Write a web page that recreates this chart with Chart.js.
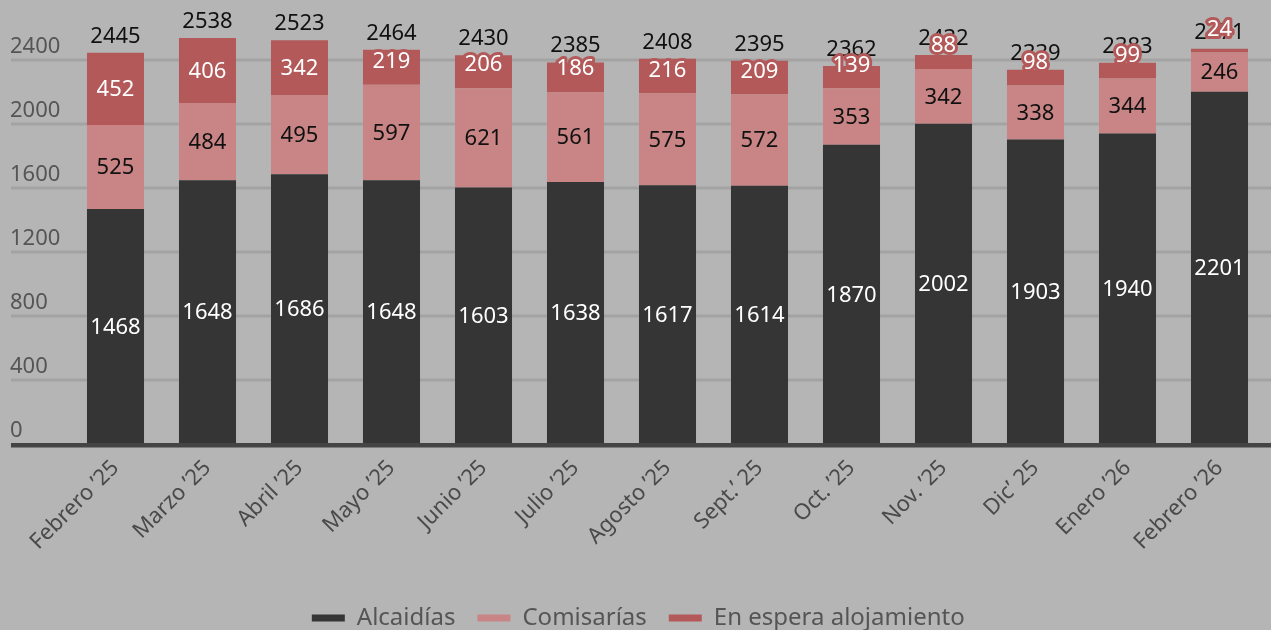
<!DOCTYPE html>
<html>
<head>
<meta charset="utf-8">
<script src="https://cdn.jsdelivr.net/npm/chart.js@4.4.1/dist/chart.umd.min.js"></script>
<style>
  html, body { margin: 0; padding: 0; background: #b5b5b5; }
  #wrap { width: 1271px; height: 630px; position: relative; }
</style>
</head>
<body>
<div id="wrap"><canvas id="myChart"></canvas></div>
<script>
// Datos
const categories = ['Febrero ’25', 'Marzo ’25', 'Abril ’25', 'Mayo ’25', 'Junio ’25', 'Julio ’25', 'Agosto ’25', 'Sept.’ 25', 'Oct. ’25', 'Nov. ’25', 'Dic’ 25', 'Enero ’26', 'Febrero ’26'];
const alcaidias = [1468, 1648, 1686, 1648, 1603, 1638, 1617, 1614, 1870, 2002, 1903, 1940, 2201];
const comisarias = [525, 484, 495, 597, 621, 561, 575, 572, 353, 342, 338, 344, 246];
const espera = [452, 406, 342, 219, 206, 186, 216, 209, 139, 88, 98, 99, 24];
const yTicks = [0, 400, 800, 1200, 1600, 2000, 2400];

const FONT = '"Noto Sans", "Open Sans", sans-serif';
const colors = { alc: '#353535', com: '#c98585', esp: '#b35959' };

// gridlines, y labels and axis line, drawn across the full width
const backgroundGrid = {
  id: 'backgroundGrid',
  beforeDatasetsDraw(chart) {
    const ctx = chart.ctx;
    const y = chart.scales.y;
    ctx.save();
    ctx.strokeStyle = '#a3a3a3';
    ctx.lineWidth = 3;
    yTicks.forEach(v => {
      if (v === 0) return;
      const py = y.getPixelForValue(v);
      ctx.beginPath();
      ctx.moveTo(11, py);
      ctx.lineTo(chart.width, py);
      ctx.stroke();
    });
    ctx.fillStyle = '#555';
    ctx.font = '22px ' + FONT;
    ctx.textAlign = 'left';
    ctx.textBaseline = 'alphabetic';
    yTicks.forEach(v => {
      ctx.fillText(String(v), 10, y.getPixelForValue(v) - 7);
    });
    ctx.restore();
  },
  afterDatasetsDraw(chart) {
    const ctx = chart.ctx;
    const py = chart.scales.y.getPixelForValue(0) + 1.2;
    ctx.save();
    ctx.strokeStyle = '#444';
    ctx.lineWidth = 4.5;
    ctx.beginPath();
    ctx.moveTo(11, py);
    ctx.lineTo(chart.width, py);
    ctx.stroke();
    ctx.restore();
  }
};

// etiquetas de valores
const valueLabels = {
  id: 'valueLabels',
  afterDraw(chart) {
    const ctx = chart.ctx;
    ctx.save();
    ctx.font = '22px ' + FONT;
    ctx.textAlign = 'center';

    // totales
    const top = chart.getDatasetMeta(2).data;
    ctx.fillStyle = '#111';
    ctx.textBaseline = 'alphabetic';
    top.forEach((bar, i) => {
      const total = alcaidias[i] + comisarias[i] + espera[i];
      ctx.fillText(String(total), bar.x, bar.y - 10);
    });

    ctx.textBaseline = 'middle';
    const textColors = ['#fff', '#111', '#fff'];
    const fills = [colors.alc, colors.com, colors.esp];
    chart.data.datasets.forEach((ds, d) => {
      chart.getDatasetMeta(d).data.forEach((bar, i) => {
        const h = bar.base - bar.y;
        let cy = bar.y + h / 2 + 1;
        let halo = false;
        if (h < 37) {
          cy = bar.base - 23;
          halo = true;
        }
        const txt = String(ds.data[i]);
        if (halo) {
          ctx.strokeStyle = fills[d];
          ctx.lineWidth = 6;
          ctx.lineJoin = 'round';
          ctx.strokeText(txt, bar.x, cy);
        }
        ctx.fillStyle = textColors[d];
        ctx.fillText(txt, bar.x, cy);
      });
    });
    ctx.restore();
  }
};

const myChart = new Chart(document.getElementById('myChart'), {
  type: 'bar',
  data: {
    labels: categories,
    datasets: [
      { label: 'Alcaidías', data: alcaidias, backgroundColor: colors.alc, borderWidth: 0 },
      { label: 'Comisarías', data: comisarias, backgroundColor: colors.com, borderWidth: 0 },
      { label: 'En espera alojamiento', data: espera, backgroundColor: colors.esp, borderWidth: 0 }
    ]
  },
  options: {
    responsive: true,
    maintainAspectRatio: false,
    animation: false,
    layout: { padding: { left: 11, right: 5.5, top: 28, bottom: -10 } },
    datasets: { bar: { categoryPercentage: 1, barPercentage: 0.62 } },
    scales: {
      x: {
        stacked: true,
        grid: { display: false },
        border: { display: false },
        ticks: {
          color: '#4a4a4a',
          font: { family: FONT, size: 22 },
          minRotation: 45,
          maxRotation: 45,
          padding: 3
        },
        afterFit: s => { s.height = 140; }
      },
      y: {
        stacked: true,
        min: 0,
        max: 2600,
        grid: { display: false },
        border: { display: false },
        ticks: { display: false },
        afterFit: s => { s.width = 58.5; }
      }
    },
    plugins: {
      tooltip: { enabled: false },
      legend: {
        position: 'bottom',
        labels: {
          color: '#555',
          font: { family: FONT, size: 24 },
          boxWidth: 33,
          boxHeight: 7,
          padding: 22
        }
      }
    }
  },
  plugins: [backgroundGrid, valueLabels]
});
</script>
</body>
</html>
